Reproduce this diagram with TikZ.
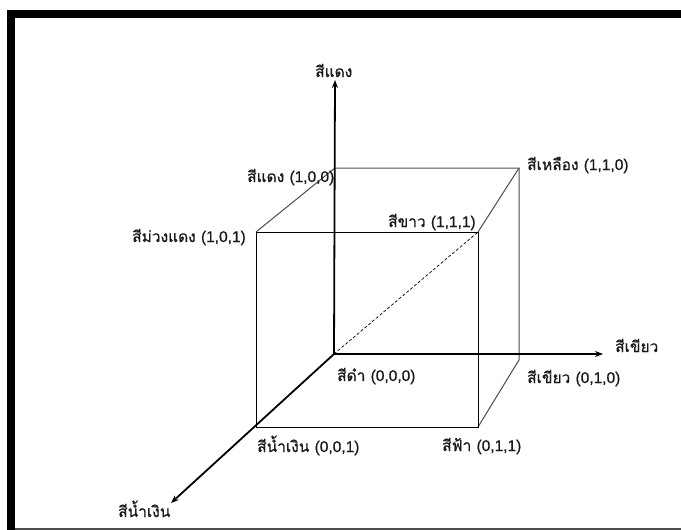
\documentclass[tikz,border=0pt]{standalone}
\usepackage{fontspec}
\setmainfont[FakeBold=0.6,AutoFakeBold=0.6]{Liberation Sans}
\newfontfamily\thai[Script=Thai,FakeBold=0.8]{Loma}
\usetikzlibrary{arrows.meta}
\begin{document}
\begin{tikzpicture}[x=1pt,y=-1pt,
  lbl/.style={anchor=base west,inner sep=0pt,font=\fontsize{15.5}{18}\selectfont,text=black!90},
  axis/.style={line width=1.8pt,-{Stealth[length=8pt,width=6pt]}},
  edge/.style={line width=1pt,black},
  backedge/.style={line width=1pt,black!70}]
\useasboundingbox (0,0) rectangle (681,530);
% frame
\fill[black] (7,10) rectangle (681,18);
\fill[black] (7,10) rectangle (15,530);
\fill[black!70] (15,527.5) rectangle (681,530);
% corners
\coordinate (O) at (334,354);
\coordinate (R) at (335,168);
\coordinate (Y) at (519,168);
\coordinate (W) at (478,232);
\coordinate (M) at (256,232);
\coordinate (B) at (256,427);
\coordinate (C) at (478,427);
\coordinate (G) at (519,360);
\coordinate (Rtip) at (335,80);
\coordinate (Gtip) at (603,354);
\coordinate (Btip) at (171,503);
% cube
\draw[backedge] (R) -- (Y) -- (G) -- (C);
\draw[backedge] (Y) -- (W);
\draw[backedge] (R) -- (M);
\draw[edge] (M) -- (W) -- (C) -- (B) -- cycle;
\draw[edge,densely dashed,line width=0.7pt] (O) -- (W);
% axes
\draw[axis] (O) -- (Rtip);
\draw[axis] (O) -- (Gtip);
\draw[axis] (O) -- (Btip);
% labels
\node[lbl] (lr) at (315,77) {\thai สีแดง};
\node[lbl] (l100) at (247,182) {\thai สีแดง\ \rmfamily(1,0,0)};
\node[lbl] (l101) at (132,242) {\thai สีม่วงแดง\ \rmfamily(1,0,1)};
\node[lbl] (l111) at (388,227) {\thai สีขาว\ \rmfamily(1,1,1)};
\node[lbl] (l110) at (527,170) {\thai สีเหลือง\ \rmfamily(1,1,0)};
\node[lbl] (lg) at (615,352) {\thai สีเขียว};
\node[lbl] (l000) at (337,381) {\thai สีดำ\ \rmfamily(0,0,0)};
\node[lbl] (l010) at (527,383) {\thai สีเขียว\ \rmfamily(0,1,0)};
\node[lbl] (l001) at (257,452) {\thai สีน้ำเงิน\ \rmfamily(0,0,1)};
\node[lbl] (l011) at (442,451) {\thai สีฟ้า\ \rmfamily(0,1,1)};
\node[lbl] (lb) at (118,517) {\thai สีน้ำเงิน};
\end{tikzpicture}
\end{document}
